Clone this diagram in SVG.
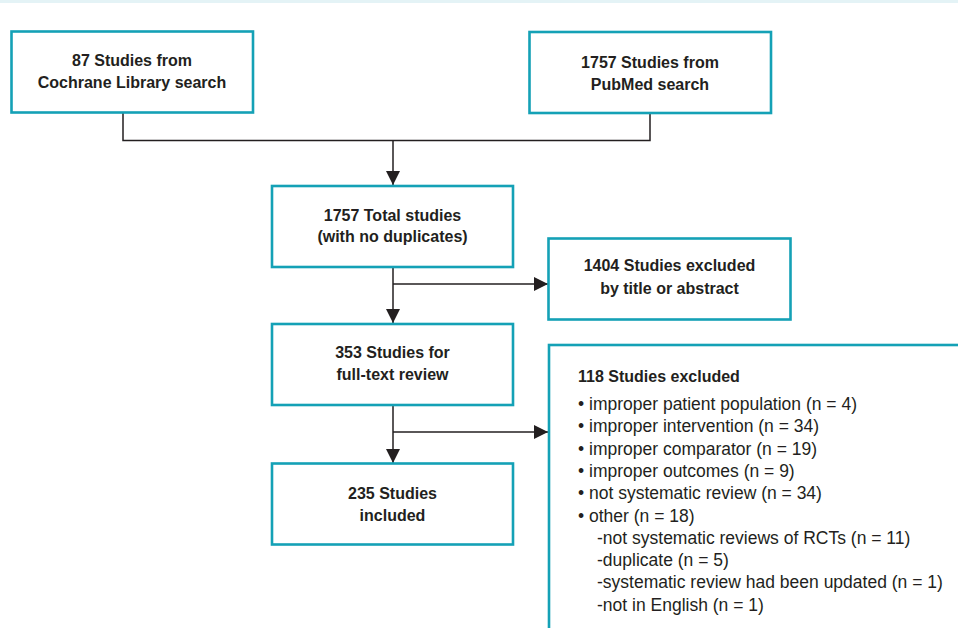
<svg xmlns="http://www.w3.org/2000/svg" width="958" height="628" viewBox="0 0 958 628">
<style>
.box{fill:#fff;stroke:#14a1b6;stroke-width:2.6}
.t{font-family:"Liberation Sans",Arial,sans-serif;font-weight:bold;font-size:16px;fill:#231f20;text-anchor:middle}
.b{font-family:"Liberation Sans",Arial,sans-serif;font-size:17.5px;fill:#231f20}
.ln{fill:none;stroke:#231f20;stroke-width:1.5}
</style>
<defs>
<marker id="ah" viewBox="0 0 14 14" refX="14" refY="7" markerWidth="14" markerHeight="14" markerUnits="userSpaceOnUse" orient="auto">
<path d="M0,0 L14,7 L0,14 Z" fill="#231f20"/>
</marker>
</defs>
<rect x="0" y="0" width="958" height="3" fill="#e4f3f6"/>
<g id="connectors">
<path class="ln" d="M123,113 V140.5 H650 V113"/>
<path class="ln" d="M393,140.5 V185" marker-end="url(#ah)"/>
<path class="ln" d="M393,267 V323" marker-end="url(#ah)"/>
<path class="ln" d="M393,284 H548" marker-end="url(#ah)"/>
<path class="ln" d="M393,405 V463" marker-end="url(#ah)"/>
<path class="ln" d="M393,432 H548" marker-end="url(#ah)"/>
</g>
<g id="cochrane">
<rect class="box" x="11.5" y="31.5" width="241.5" height="81"/>
<text class="t" x="132" y="66">87 Studies from</text>
<text class="t" x="132" y="88">Cochrane Library search</text>
</g>
<g id="pubmed">
<rect class="box" x="529.5" y="32" width="241.5" height="81"/>
<text class="t" x="650" y="68">1757 Studies from</text>
<text class="t" x="650" y="90">PubMed search</text>
</g>
<g id="total">
<rect class="box" x="272" y="186" width="241" height="81"/>
<text class="t" x="392.5" y="221">1757 Total studies</text>
<text class="t" x="392.5" y="242">(with no duplicates)</text>
</g>
<g id="excluded1">
<rect class="box" x="548.5" y="238.5" width="242" height="81"/>
<text class="t" x="669.5" y="271">1404 Studies excluded</text>
<text class="t" x="669.5" y="294">by title or abstract</text>
</g>
<g id="fulltext">
<rect class="box" x="272" y="324" width="241" height="81"/>
<text class="t" x="392.5" y="358">353 Studies for</text>
<text class="t" x="392.5" y="380">full-text review</text>
</g>
<g id="included">
<rect class="box" x="272" y="463.5" width="241" height="81"/>
<text class="t" x="392.5" y="499">235 Studies</text>
<text class="t" x="392.5" y="521">included</text>
</g>
<g id="excluded2">
<rect class="box" x="549" y="345" width="420" height="300"/>
<text class="t" x="578" y="382" style="text-anchor:start">118 Studies excluded</text>
<text class="b" x="578" y="410">• improper patient population (n = 4)</text>
<text class="b" x="578" y="432.3">• improper intervention (n = 34)</text>
<text class="b" x="578" y="454.6">• improper comparator (n = 19)</text>
<text class="b" x="578" y="476.9">• improper outcomes (n = 9)</text>
<text class="b" x="578" y="499.2">• not systematic review (n = 34)</text>
<text class="b" x="578" y="521.5">• other (n = 18)</text>
<text class="b" x="597" y="543.8">-not systematic reviews of RCTs (n = 11)</text>
<text class="b" x="597" y="566.1">-duplicate (n = 5)</text>
<text class="b" x="597" y="588.4">-systematic review had been updated (n = 1)</text>
<text class="b" x="597" y="610.7">-not in English (n = 1)</text>
</g>
</svg>
